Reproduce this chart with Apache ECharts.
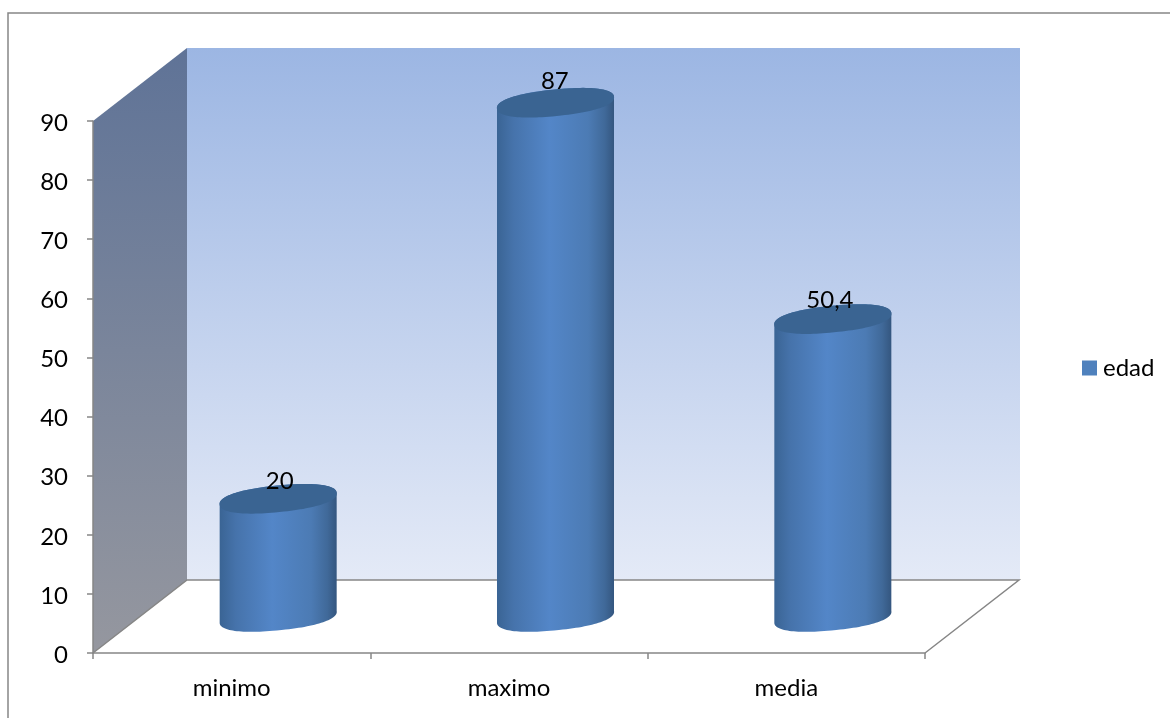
<!DOCTYPE html>
<html>
<head>
<meta charset="utf-8">
<style>html,body{margin:0;padding:0;background:#fff;overflow:hidden}#c{width:1170px;height:718px}</style>
<script src="https://cdn.jsdelivr.net/npm/echarts@6/dist/echarts.min.js"></script>
</head>
<body>
<div id="c"></div>
<script>
var categories = ['minimo', 'maximo', 'media'];
var edadValues = [20, 87, 50.4];
var seriesName = 'edad';
var FONT = 'Lato, "Open Sans", sans-serif';
var FS = 24;
var GREY = '#868686';
var DEPTH_X = 94, DEPTH_Y = -73;

function sp(v, p) { return (v < 0 ? -1 : 1) * Math.pow(Math.abs(v), p); }

function ellipsePts(cx, cy, a, b, theta, t0, t1, n) {
  var pts = [], c = Math.cos(theta), s = Math.sin(theta);
  for (var i = 0; i <= n; i++) {
    var t = t0 + (t1 - t0) * i / n;
    var ex = a * sp(Math.cos(t), 0.88), ey = b * sp(Math.sin(t), 0.88);
    pts.push([cx + ex * c + ey * s, cy - ex * s + ey * c]);
  }
  return pts;
}

function vGrad(a, b) {
  return {type:'linear',x:0,y:0,x2:0,y2:1,colorStops:[{offset:0,color:a},{offset:1,color:b}]};
}

function renderWalls(params, api) {
  var r = params.coordSys;
  var x0 = r.x, x1 = r.x + r.width, yT = r.y, yB = r.y + r.height;
  var dx = DEPTH_X, dy = DEPTH_Y;
  return {type:'group',children:[
    {type:'polygon',shape:{points:[[x0,yB],[x0,yT],[x0+dx,yT+dy],[x0+dx,yB+dy]]},
      style:{fill:vGrad('#5f7397','#95979f')}},
    {type:'rect',shape:{x:x0+dx,y:yT+dy,width:r.width+1,height:r.height},
      style:{fill:vGrad('#9cb6e3','#e4eaf7')}},
    {type:'polyline',shape:{points:[[x0,yB],[x0+dx,yB+dy],[x1+dx,yB+dy],[x1,yB]]},
      style:{fill:null,stroke:GREY,lineWidth:1.5}}
  ]};
}

function renderCylinder(params, api) {
  var i = api.value(0), v = api.value(1);
  var bottom = api.coord([i, 0]), top = api.coord([i, v]);
  var cx = bottom[0] + DEPTH_X / 2 - 0.5;
  var yB = bottom[1] + DEPTH_Y / 2 + 0.5, yT = top[1] + DEPTH_Y / 2 + 0.5;
  var a = api.size([1, 0])[0] * 0.2122, b = 13.3, th = 5.67 * Math.PI / 180;
  var t0 = -Math.atan2(b * Math.sin(th), a * Math.cos(th));
  var lower = ellipsePts(cx, yB, a, b, th, t0, t0 + Math.PI, 60);
  var upper = ellipsePts(cx, yT, a, b, th, t0 + Math.PI, t0 + 2 * Math.PI, 60);
  var body = lower.concat(upper);
  var topCap = ellipsePts(cx, yT, a, b, th, 0, 2 * Math.PI, 120);
  var txt = String(v).replace('.', ',');
  return {type:'group',children:[
    {type:'polygon',shape:{points:body},style:{fill:{type:'linear',x:0,y:0,x2:1,y2:0,colorStops:[
      {offset:0,color:'#3a6494'},{offset:0.14,color:'#4673ab'},{offset:0.45,color:'#5386c8'},
      {offset:0.78,color:'#4c7bb4'},{offset:0.92,color:'#406999'},{offset:1,color:'#34567f'}]}}},
    {type:'polygon',shape:{points:topCap},style:{fill:'#3a6492'}},
    {type:'text',style:{x:cx+1.5-2.2*i,y:yT-16-v*0.06,text:txt,fill:'#000',font:FS+'px '+FONT,align:'center',verticalAlign:'middle'}}
  ]};
}

var chart = echarts.init(document.getElementById('c'), null, {renderer:'canvas'});
chart.setOption({
  animation:false,
  backgroundColor:'#fff',
  textStyle:{fontFamily:FONT},
  graphic:[{type:'rect',silent:true,z:-1,shape:{x:8,y:13,width:1200,height:740},
    style:{fill:null,stroke:GREY,lineWidth:1.5}}],
  legend:{data:[seriesName],orient:'vertical',left:1082,top:351,padding:[5,5,5,0],icon:'rect',itemWidth:15,itemHeight:15,
    itemGap:0,textStyle:{fontFamily:FONT,fontSize:FS,color:'#000',padding:[0,0,0,1]},selectedMode:false},
  grid:{left:93,right:245,top:121,bottom:65,containLabel:false},
  xAxis:{type:'category',data:categories,z:5,
    axisLine:{show:true,lineStyle:{color:GREY,width:1.5}},
    axisTick:{show:true,alignWithLabel:false,length:6,lineStyle:{color:GREY,width:1.5}},
    axisLabel:{color:'#000',fontFamily:FONT,fontSize:FS,margin:23}},
  yAxis:{type:'value',min:0,max:90,interval:10,z:5,
    axisLine:{show:true,lineStyle:{color:GREY,width:1.5}},
    axisTick:{show:true,length:6,lineStyle:{color:GREY,width:1.5}},
    splitLine:{show:false},
    axisLabel:{color:'#000',fontFamily:FONT,fontSize:FS,margin:25,formatter:'{n|{value}}',
      rich:{n:{fontFamily:FONT,fontSize:FS,color:'#000',padding:[4,0,0,0]}}}},
  series:[
    {type:'custom',name:'walls',z:1,silent:true,renderItem:renderWalls,data:[[0,0]],tooltip:{show:false}},
    {type:'custom',name:seriesName,z:3,renderItem:renderCylinder,itemStyle:{color:'#4f81bd'},
     encode:{x:0,y:1},data:edadValues.map(function(v,i){return [i,v];})}
  ]
});
</script>
</body>
</html>
